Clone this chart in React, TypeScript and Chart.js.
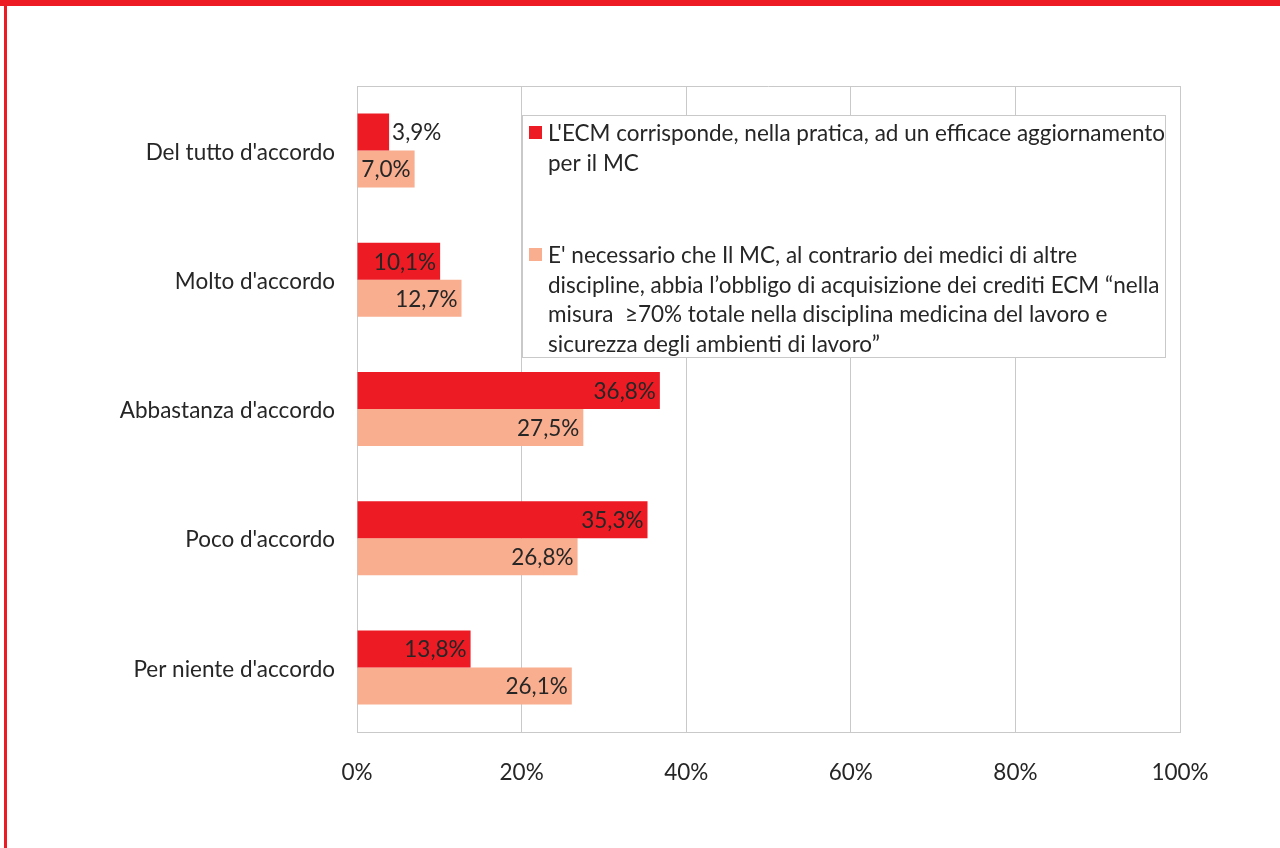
import React, { useEffect, useRef } from "react";
import { Chart, registerables } from "chart.js";

Chart.register(...registerables);

const categories = [
  "Del tutto d'accordo",
  "Molto d'accordo",
  "Abbastanza d'accordo",
  "Poco d'accordo",
  "Per niente d'accordo",
];
const seriesAValues = [3.9, 10.1, 36.8, 35.3, 13.8];
const seriesBValues = [7.0, 12.7, 27.5, 26.8, 26.1];
const seriesALegendLines = [
  "L'ECM corrisponde, nella pratica, ad un efficace aggiornamento",
  "per il MC",
];
const seriesBLegendLines = [
  "E' necessario che Il MC, al contrario dei medici di altre",
  "discipline, abbia l\u2019obbligo di acquisizione dei crediti ECM \u201cnella",
  "misura  \u226570% totale nella disciplina medicina del lavoro e",
  "sicurezza degli ambienti di lavoro\u201d",
];
const xTickValues = [0, 20, 40, 60, 80, 100];

const RED = "#ED1C24";
const ORANGE = "#F8AE8F";
const GRID = "#C9C9C9";
const TEXT = "#262626";
const FONT_FAMILY = "Lato, 'Open Sans', sans-serif";
const FONT_SIZE = 22.5;

const fmt = (v: number) => v.toFixed(1).replace(".", ",") + "%";

const framePlugin = {
  id: "frameBox",
  beforeDatasetsDraw(chart: any) {
    const { ctx, chartArea: a } = chart;
    ctx.save();
    ctx.strokeStyle = GRID;
    ctx.lineWidth = 1;
    ctx.beginPath();
    ctx.moveTo(a.left, Math.round(a.top) + 0.5);
    ctx.lineTo(a.right, Math.round(a.top) + 0.5);
    ctx.stroke();
    ctx.restore();
  },
};

const dataLabelPlugin = {
  id: "dataLabels",
  afterDatasetsDraw(chart: any) {
    const { ctx } = chart;
    ctx.save();
    ctx.font = `${FONT_SIZE}px ${FONT_FAMILY}`;
    ctx.fillStyle = TEXT;
    ctx.textBaseline = "middle";
    chart.data.datasets.forEach((ds: any, di: number) => {
      const meta = chart.getDatasetMeta(di);
      meta.data.forEach((bar: any, i: number) => {
        const label = fmt(ds.data[i]);
        const w = ctx.measureText(label).width;
        const barW = bar.x - bar.base;
        if (w + 6 <= barW) {
          ctx.textAlign = "right";
          ctx.fillText(label, bar.x - 4, bar.y + 1);
        } else {
          ctx.textAlign = "left";
          ctx.fillText(label, bar.x + 3, bar.y + 1);
        }
      });
    });
    ctx.restore();
  },
};

const legendPlugin = {
  id: "boxLegend",
  afterDraw(chart: any) {
    const { ctx } = chart;
    const bx = 522, by = 115, bw = 643, bh = 242;
    ctx.save();
    ctx.fillStyle = "#FFFFFF";
    ctx.fillRect(bx, by, bw, bh);
    ctx.strokeStyle = GRID;
    ctx.lineWidth = 1;
    ctx.strokeRect(bx + 0.5, by + 0.5, bw, bh);
    ctx.font = `${FONT_SIZE}px ${FONT_FAMILY}`;
    ctx.fillStyle = TEXT;
    ctx.textBaseline = "middle";
    ctx.textAlign = "left";
    const entries = [
      { color: RED, lines: seriesALegendLines, y0: 133 },
      { color: ORANGE, lines: seriesBLegendLines, y0: 255 },
    ];
    entries.forEach((e) => {
      ctx.fillStyle = e.color;
      ctx.fillRect(529, e.y0 - 7, 13, 13);
      ctx.fillStyle = TEXT;
      e.lines.forEach((ln, k) => {
        ctx.fillText(ln, 548, e.y0 + 1 + k * 29.6);
      });
    });
    ctx.restore();
  },
};

export default function App() {
  const canvasRef = useRef<HTMLCanvasElement | null>(null);

  useEffect(() => {
    document.body.style.margin = "0";
    const canvas = canvasRef.current;
    if (!canvas) return;
    const chart = new Chart(canvas, {
      type: "bar",
      data: {
        labels: categories,
        datasets: [
          {
            label: seriesALegendLines.join(" "),
            data: seriesAValues,
            backgroundColor: RED,
            barPercentage: 1,
            categoryPercentage: 0.573,
          },
          {
            label: seriesBLegendLines.join(" "),
            data: seriesBValues,
            backgroundColor: ORANGE,
            barPercentage: 1,
            categoryPercentage: 0.573,
          },
        ],
      },
      options: {
        indexAxis: "y",
        responsive: false,
        animation: false,
        devicePixelRatio: 1,
        layout: { padding: { left: 0, right: 100, top: 86, bottom: 0 } },
        plugins: {
          legend: { display: false },
          tooltip: { enabled: false },
        },
        scales: {
          x: {
            type: "linear",
            min: 0,
            max: 100,
            afterBuildTicks: (s: any) => {
              s.ticks = xTickValues.map((v) => ({ value: v }));
            },
            ticks: {
              callback: (v: any) => v + "%",
              font: { family: FONT_FAMILY, size: FONT_SIZE },
              color: TEXT,
              padding: 27,
              maxRotation: 0,
            },
            grid: { color: GRID, lineWidth: 1, drawTicks: false },
            border: { color: GRID, width: 1 },
            afterFit: (s: any) => {
              s.height = 116;
            },
          },
          y: {
            ticks: {
              font: { family: FONT_FAMILY, size: FONT_SIZE },
              color: TEXT,
              padding: 22,
              labelOffset: 2,
            },
            grid: { display: false, drawTicks: false },
            border: { color: GRID, width: 1 },
            afterFit: (s: any) => {
              s.width = 357;
            },
          },
        },
      },
      plugins: [framePlugin, dataLabelPlugin, legendPlugin],
    } as any);
    return () => chart.destroy();
  }, []);

  return (
    <div style={{ position: "absolute", left: 0, top: 0, width: 1280, height: 848, background: "#FFFFFF" }}>
      <canvas ref={canvasRef} width={1280} height={848} style={{ display: "block" }} />
      <div style={{ position: "absolute", left: 0, top: 0, width: 1280, height: 6, background: RED }} />
      <div style={{ position: "absolute", left: 4, top: 0, width: 3, height: 848, background: RED }} />
    </div>
  );
}
